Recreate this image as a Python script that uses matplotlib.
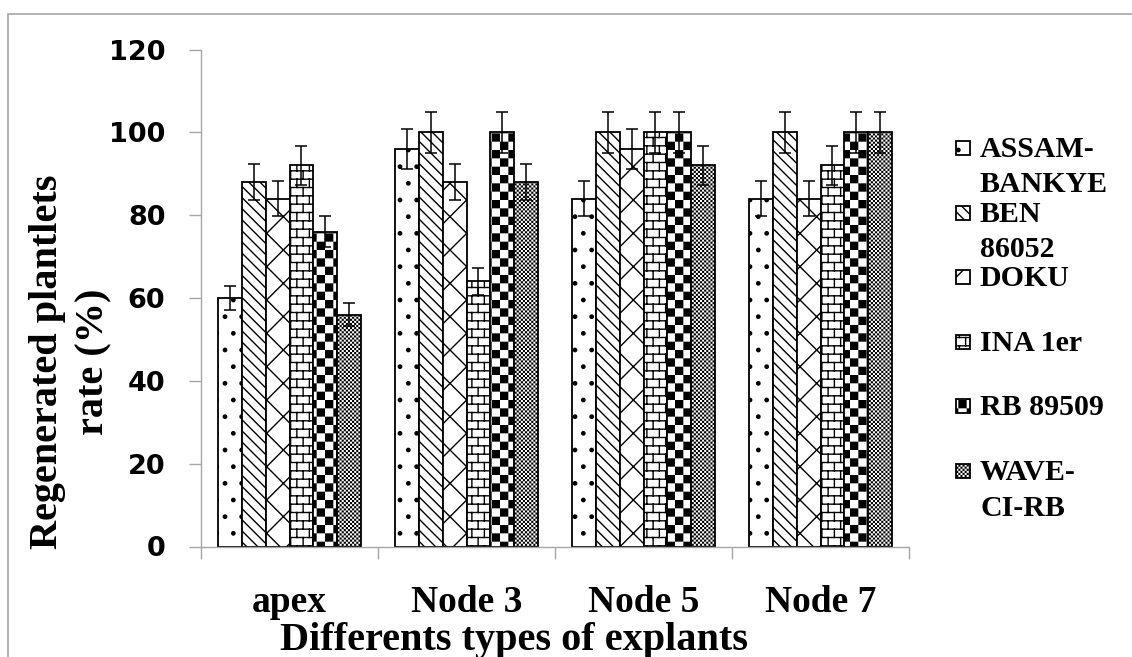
import matplotlib
matplotlib.use("Agg")
import matplotlib.pyplot as plt
import matplotlib.hatch as mhatch
from matplotlib.patches import Rectangle
from matplotlib.path import Path
import numpy as np

# data: regeneration rate (%) per variety, for each explant type
explants = ["apex", "Node 3", "Node 5", "Node 7"]
varieties = ["ASSAM-\nBANKYE", "BEN\n86052", "DOKU", "INA 1er", "RB 89509", "WAVE-\nCI-RB"]

assam = [60, 96, 84, 84]
ben = [88, 100, 100, 100]
doku = [84, 88, 96, 84]
ina = [92, 64, 100, 92]
rb = [76, 100, 100, 100]
wave = [56, 88, 92, 100]

assam_err = [3.0, 4.8, 4.2, 4.2]
ben_err = [4.4, 5.0, 5.0, 5.0]
doku_err = [4.2, 4.4, 4.8, 4.2]
ina_err = [4.6, 3.2, 5.0, 4.6]
rb_err = [3.8, 5.0, 5.0, 5.0]
wave_err = [2.8, 4.4, 4.6, 5.0]

values = [assam, ben, doku, ina, rb, wave]
errors = [assam_err, ben_err, doku_err, ina_err, rb_err, wave_err]


# extra hatch patterns (Excel-like checkerboard and bricks)
class CheckerHatch(mhatch.HatchPatternBase):
    def __init__(self, hatch, density):
        self.cells = hatch.count('O') * 12
        self.num_vertices = 5 * (self.cells * self.cells // 2)

    def set_vertices_and_codes(self, vertices, codes):
        n = self.cells
        s = 1.0 / n
        inset = plt.rcParams['hatch.linewidth'] / 72.0 / 2
        k = 0
        for r in range(n):
            for c in range(n):
                if (r + c) % 2:
                    continue
                x0, y0 = c * s + inset, r * s + inset
                x1, y1 = (c + 1) * s - inset, (r + 1) * s - inset
                vertices[k:k + 5] = [(x0, y0), (x1, y0), (x1, y1), (x0, y1), (x0, y0)]
                codes[k:k + 5] = [Path.MOVETO, Path.LINETO, Path.LINETO,
                                  Path.LINETO, Path.CLOSEPOLY]
                k += 5


class BrickHatch(mhatch.HatchPatternBase):
    def __init__(self, hatch, density):
        n = hatch.count('*')
        self.segs = []
        if n:
            rows, cols = 12 * n, 8 * n
            for r in range(rows):
                y = (r + 0.5) / rows
                self.segs.append(((0, y), (1, y)))
                y0, y1 = (r + 0.5) / rows, (r + 1.5) / rows
                for c in range(cols):
                    x = (c + 0.25 + 0.5 * (r % 2)) / cols
                    if y1 > 1:
                        self.segs.append(((x, y0), (x, 1)))
                        self.segs.append(((x, 0), (x, y1 - 1)))
                    else:
                        self.segs.append(((x, y0), (x, y1)))
        self.num_vertices = 2 * len(self.segs)

    def set_vertices_and_codes(self, vertices, codes):
        for i, (a, b) in enumerate(self.segs):
            vertices[2 * i] = a
            vertices[2 * i + 1] = b
            codes[2 * i] = Path.MOVETO
            codes[2 * i + 1] = Path.LINETO


mhatch._hatch_types = [t for t in mhatch._hatch_types
                       if t not in (mhatch.LargeCircles, mhatch.Stars)]
mhatch._hatch_types += [CheckerHatch, BrickHatch]

hatches = ['.', '\\\\\\', 'x', '*', 'O', 'OOOO']

W, H = 1132, 657
fig = plt.figure(figsize=(W / 100, H / 100), dpi=100)
ax = fig.add_axes([201 / W, 1 - 546.5 / H, 708 / W, 497 / H])

x = np.arange(len(explants))
w = 0.1347
for j in range(len(varieties)):
    ax.bar(x + (j - 2.5) * w, values[j], w, yerr=errors[j],
           facecolor='white', edgecolor='black', linewidth=1.3, hatch=hatches[j],
           error_kw=dict(ecolor='black', elinewidth=1.1, capsize=4.5, capthick=1.1),
           zorder=2)

ax.set_xlim(-0.5, 3.5)
ax.set_ylim(0, 120)
ax.set_yticks(range(0, 121, 20))
ax.set_xticks(x)
ax.set_xticklabels(explants, fontfamily='Liberation Serif', fontweight='bold', fontsize=27)
ax.set_xticks(np.arange(-0.5, 3.6, 1), minor=True)
for lab in ax.get_yticklabels():
    lab.set_fontfamily('DejaVu Sans')
    lab.set_fontweight('bold')
    lab.set_fontsize(19.5)

gray = '#a6a6a6'
for s in ['top', 'right']:
    ax.spines[s].set_visible(False)
for s in ['left', 'bottom']:
    ax.spines[s].set_color(gray)
    ax.spines[s].set_linewidth(1.0)
ax.tick_params(axis='y', direction='out', length=8.6, width=1, color=gray, pad=17)
ax.tick_params(axis='x', which='major', length=0, pad=27.5)
ax.tick_params(axis='x', which='minor', direction='out', length=8.6, width=1, color=gray)

# axis titles
fig.text(514 / W, 1 - 650 / H, "Differents types of explants", ha='center', va='baseline',
         fontfamily='Liberation Serif', fontweight='bold', fontsize=29)
fig.text(71 / W, 1 - 362 / H, "Regenerated plantlets\nrate (%)", rotation=90,
         ha='center', va='center', multialignment='center', linespacing=1.35,
         fontfamily='Liberation Serif', fontweight='bold', fontsize=29)

# legend drawn by hand, Excel style (second lines overflow like in Excel)
for j, name in enumerate(varieties):
    base = 157 + j * 64.6
    fig.add_artist(Rectangle((956 / W, 1 - (base - 2) / H), 14 / W, 14 / H,
                             transform=fig.transFigure, facecolor='white',
                             edgecolor='black', linewidth=1.3, hatch=hatches[j]))
    for k, line in enumerate(name.split('\n')):
        fig.text(980 / W, 1 - (base + 35.5 * k) / H, line, ha='left', va='baseline',
                 fontfamily='Liberation Serif', fontweight='bold', fontsize=21.5)

# chart border
fig.add_artist(Rectangle((8 / W, -0.1), 1.2, 1 - 14 / H + 0.1, transform=fig.transFigure,
                         fill=False, edgecolor=gray, linewidth=1.2))

fig.savefig("out.png", dpi=100)
